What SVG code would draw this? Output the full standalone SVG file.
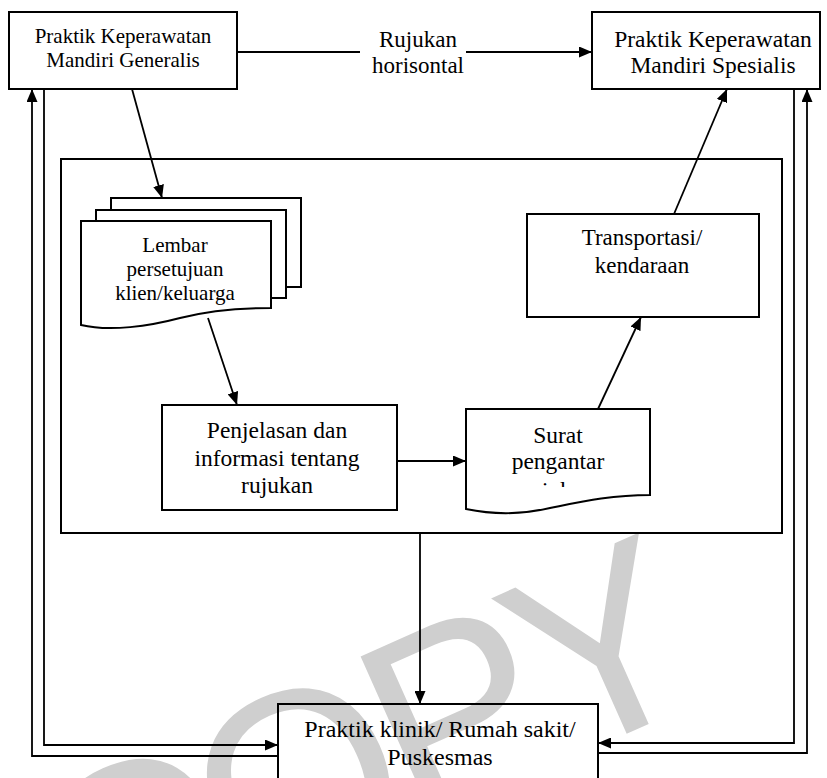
<svg xmlns="http://www.w3.org/2000/svg" width="827" height="778" viewBox="0 0 827 778">
<style>
.box{fill:#fff;stroke:#000;stroke-width:2}
.t{font-family:"Liberation Serif","Tinos","DejaVu Serif","Noto Serif",serif;fill:#000;text-anchor:middle}
.ln{fill:none;stroke:#000;stroke-width:1.8}
.wm{font-family:"Liberation Sans",Arial,sans-serif;fill:#cfcfcf;font-size:260px;letter-spacing:-15px}
</style>
<defs>
<marker id="ah" markerUnits="userSpaceOnUse" markerWidth="13" markerHeight="11" refX="13" refY="5.5" orient="auto">
<path d="M0,0 L13,5.5 L0,11 z" fill="#000"/>
</marker>
<clipPath id="suratClip"><rect x="466" y="409" width="184" height="78"/></clipPath>
</defs>
<rect width="827" height="778" fill="#fff"/>
<text class="wm" transform="translate(85,975) rotate(-24)">COPY</text>

<g id="container"><rect x="61" y="159" width="721" height="374" fill="none" stroke="#000" stroke-width="2"/></g>

<g id="generalis">
<rect class="box" x="9" y="12" width="228" height="77"/>
<text class="t" font-size="21"><tspan x="123" y="43">Praktik Keperawatan</tspan><tspan x="123" y="67">Mandiri Generalis</tspan></text>
</g>

<g id="spesialis">
<rect class="box" x="592" y="12" width="228" height="77"/>
<text class="t" font-size="23.5"><tspan x="713" y="47">Praktik Keperawatan</tspan><tspan x="713" y="73">Mandiri Spesialis</tspan></text>
</g>

<g id="lembar">
<path class="box" d="M111,198 H301 V287 H286 V210 H111 Z"/>
<path class="box" d="M96,210 H286 V298 H271 V221 H96 Z"/>
<path class="box" d="M81,221 H271 V308 C245,308 215,309 180,318 C150,326 110,332 81,325 Z"/>
<text class="t" font-size="21"><tspan x="175" y="252">Lembar</tspan><tspan x="175" y="276">persetujuan</tspan><tspan x="175" y="300">klien/keluarga</tspan></text>
</g>

<g id="penjelasan">
<rect class="box" x="162" y="405" width="235" height="105"/>
<text class="t" font-size="23.5"><tspan x="277" y="438">Penjelasan dan</tspan><tspan x="277" y="466">informasi tentang</tspan><tspan x="277" y="493">rujukan</tspan></text>
</g>

<g id="surat">
<path class="box" d="M466,409 H650 V495 C610,495 580,502 550,508 C520,515 490,514 466,509 Z"/>
<text class="t" font-size="23.5" clip-path="url(#suratClip)"><tspan x="558" y="443">Surat</tspan><tspan x="558" y="469">pengantar</tspan><tspan x="558" y="498">rujukan</tspan></text>
</g>

<g id="transportasi">
<rect class="box" x="527" y="214" width="232" height="103"/>
<text class="t" font-size="23"><tspan x="642" y="245">Transportasi/</tspan><tspan x="642" y="273">kendaraan</tspan></text>
</g>

<g id="klinik">
<rect x="278" y="704" width="320" height="90" fill="none" stroke="#000" stroke-width="2"/>
<text class="t" font-size="24"><tspan x="440" y="737">Praktik klinik/ Rumah sakit/</tspan><tspan x="440" y="765">Puskesmas</tspan></text>
</g>

<g id="rujukan-label">
<text class="t" font-size="23"><tspan x="418" y="47">Rujukan</tspan><tspan x="418" y="73">horisontal</tspan></text>
</g>

<g id="connectors">
<line class="ln" x1="237" y1="52" x2="360" y2="52"/>
<line class="ln" x1="466" y1="52" x2="592" y2="52" marker-end="url(#ah)"/>
<line class="ln" x1="132" y1="89" x2="162" y2="198" marker-end="url(#ah)"/>
<line class="ln" x1="208" y1="318" x2="237" y2="405" marker-end="url(#ah)"/>
<line class="ln" x1="397" y1="461" x2="466" y2="461" marker-end="url(#ah)"/>
<line class="ln" x1="598" y1="409" x2="641" y2="317" marker-end="url(#ah)"/>
<line class="ln" x1="674" y1="214" x2="727" y2="89" marker-end="url(#ah)"/>
<line class="ln" x1="420" y1="533" x2="420" y2="704" marker-end="url(#ah)"/>
<polyline class="ln" points="278,756 32,756 32,89" marker-end="url(#ah)"/>
<polyline class="ln" points="44,89 44,745 278,745" marker-end="url(#ah)"/>
<polyline class="ln" points="794,89 794,743 598,743" marker-end="url(#ah)"/>
<polyline class="ln" points="598,753 807,753 807,89" marker-end="url(#ah)"/>
</g>
</svg>
